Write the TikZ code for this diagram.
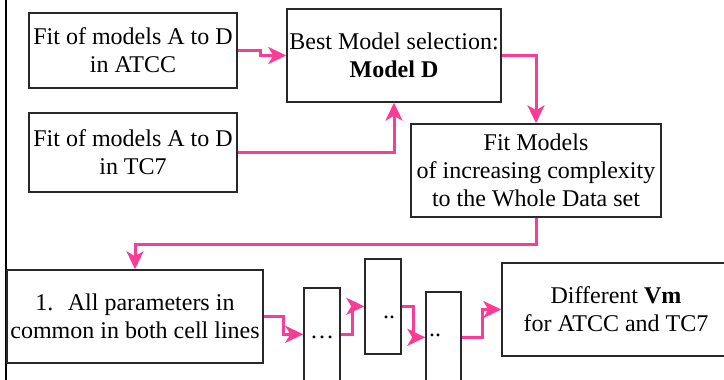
\documentclass[tikz,border=0pt]{standalone}
\usepackage{fontspec}
\setmainfont{Liberation Serif}
\usepackage[RGB]{xcolor}
\usetikzlibrary{arrows.meta}
\definecolor{flowpink}{RGB}{250,60,150}
\definecolor{boxline}{RGB}{40,40,40}
\tikzset{
  stagebox/.style={draw=boxline, line width=0.7pt, align=center, inner sep=1pt},
  flow/.style={draw=flowpink, line width=1.5pt, -{Stealth[length=9pt,width=8.5pt,inset=2.5pt]}}
}
\newcommand{\drawframe}{\draw[line width=1.3pt]}

\begin{document}
\begin{tikzpicture}[x=0.5pt, y=-0.5pt, font=\fontsize{12}{14}\selectfont]
\useasboundingbox (0,0) rectangle (724,380);
\clip (0,0) rectangle (724,380);
\drawframe (6,0)--(6,380);
% first stage
\node[stagebox, minimum width=104pt, minimum height=37.5pt] (atcc) at (133,50.5) {Fit of models A to D\\ in ATCC};
\node[stagebox, minimum width=104pt, minimum height=39.5pt] (tc7) at (133,152.5) {Fit of models A to D\\ in TC7};
\node[stagebox, minimum width=107pt, minimum height=46.5pt] (best) at (394,55.5) {Best Model selection:\\ \textbf{Model D}};
\node[stagebox, minimum width=125pt, minimum height=46.5pt] (fitall) at (536,170.5) {Fit Models\\ of increasing complexity\\ to the Whole Data set};
% second stage
\node[stagebox, minimum width=128pt, minimum height=46.5pt] (common) at (135,316.5) {1.\hspace{0.6em}All parameters in\\ common in both cell lines};
\node[stagebox, minimum width=18pt, minimum height=56pt] (n1) at (322,344) {};
\node[stagebox, minimum width=18pt, minimum height=47.5pt] (n2) at (383,306.5) {};
\node[stagebox, minimum width=17.5pt, minimum height=54pt] (n3) at (443.5,346) {};
\node[stagebox, minimum width=114pt, minimum height=46.5pt] (final) at (616,309.5) {Different \textbf{Vm}\\ for ATCC and TC7};
\node (d1) at (322,337) {\dots};
\node (d2) at (389,317) {..};
\node (d3) at (435,335) {..};
% connectors
\draw[flow] (atcc.east) -- ++(23,0) |- (best.west);
\draw[flow] (tc7.east) -| (best.south);
\draw[flow] (best.east) -| (fitall.north);
\draw[flow] (fitall.south) -- ++(0,27) -| (common.north);
\draw[flow] (common.east) -- ++(20,0) |- ([yshift=-23.5pt]n1.north west);
\draw[flow] ([yshift=-23.5pt]n1.north east) -- ++(12,0) |- ([yshift=-24pt]n2.north west);
\draw[flow] ([yshift=-24pt]n2.north east) -- ++(12,0) |- ([yshift=-23pt]n3.north west);
\draw[flow] ([yshift=-23pt]n3.north east) -- ++(21,0) |- (final.west);
\end{tikzpicture}
\end{document}
